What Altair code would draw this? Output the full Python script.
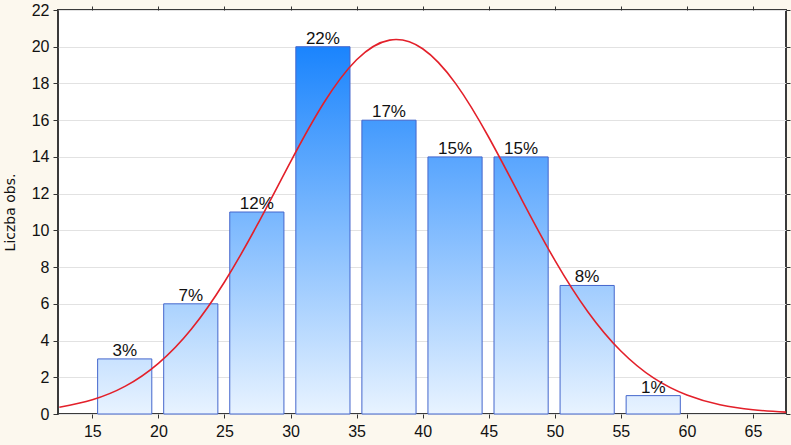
import altair as alt
import pandas as pd

# ---- data ----
bin_start = [15, 20, 25, 30, 35, 40, 45, 50, 55]
counts = [3, 6, 11, 20, 16, 14, 14, 7, 1]
pct_labels = ["3%", "7%", "12%", "22%", "17%", "15%", "15%", "8%", "1%"]

curve_x = [12.5, 15, 17.5, 20, 22.5, 25, 27.5, 30, 32.5, 35, 37.5, 40,
           42.5, 45, 47.5, 50, 52.5, 55, 57.5, 60, 62.5, 65, 67.5]
curve_y = [0.37, 0.78, 1.52, 2.76, 4.63, 7.19, 10.32, 13.73, 16.92, 19.29, 20.36, 19.89,
           17.99, 15.07, 11.68, 8.38, 5.57, 3.43, 1.95, 1.03, 0.50, 0.23, 0.10]

x_ticks = [15, 20, 25, 30, 35, 40, 45, 50, 55, 60, 65]
y_ticks = [0, 2, 4, 6, 8, 10, 12, 14, 16, 18, 20, 22]

FONT = "Liberation Sans"

bars = pd.DataFrame({"start": bin_start, "count": counts, "label": pct_labels})
bars["x0"] = bars["start"] + 0.4
bars["x1"] = bars["start"] + 4.5
bars["mid"] = (bars["x0"] + bars["x1"]) / 2
curve = pd.DataFrame({"x": curve_x, "y": curve_y})

xs = alt.Scale(domain=[12.4, 67.5], nice=False, zero=False)
ys = alt.Scale(domain=[0, 22], nice=False)

light = (232, 243, 255)
dark = (26, 132, 253)


def mix(t):
    c = [round(l + (d - l) * t) for l, d in zip(light, dark)]
    return "#%02x%02x%02x" % tuple(c)


# axis layers
axis_main = alt.Chart(bars).mark_point(opacity=0).encode(
    x=alt.X("mid:Q", scale=xs, axis=alt.Axis(
        values=x_ticks, grid=False, domain=False, tickSize=4, tickColor="#333",
        labelFont=FONT, labelFontSize=16, labelColor="#111", labelPadding=5,
        title=None)),
    y=alt.Y("count:Q", scale=ys, axis=alt.Axis(
        values=y_ticks, grid=True, gridColor="#e2e2e2", domain=False, tickSize=5,
        tickColor="#333", labelFont=FONT, labelFontSize=16, labelColor="#111",
        labelPadding=4, title="Liczba obs.", titleFont="DejaVu Sans", titleFontSize=14,
        titleFontWeight="normal", titleColor="#111", titlePadding=14)),
)

axis_mirror = alt.Chart(bars).mark_point(opacity=0).encode(
    x=alt.X("mid:Q", scale=xs, axis=alt.Axis(
        orient="top", values=x_ticks, grid=False, domain=False, labels=False,
        tickSize=4, tickColor="#333", title=None)),
    y=alt.Y("count:Q", scale=ys, axis=alt.Axis(
        orient="right", values=y_ticks, grid=False, domain=False, labels=False,
        tickSize=4, tickColor="#333", title=None)),
)

layers = [axis_main, axis_mirror]

for s, c in zip(bin_start, counts):
    top = mix(c / 20.0)
    grad = alt.Gradient(
        gradient="linear",
        stops=[alt.GradientStop(color=top, offset=0),
               alt.GradientStop(color=mix(0.0), offset=1)],
        x1=1, x2=1, y1=0, y2=1)
    layer = alt.Chart(bars).transform_filter(alt.datum.start == s).mark_rect(
        color=grad, stroke="#4466cc", strokeWidth=1).encode(
        x=alt.X("x0:Q", scale=xs, axis=None),
        x2="x1:Q",
        y=alt.Y("count:Q", scale=ys, axis=None),
        y2=alt.Y2(datum=0),
    )
    layers.append(layer)

text = alt.Chart(bars).mark_text(
    baseline="alphabetic", dy=-3, font=FONT, fontSize=17, color="#111").encode(
    x=alt.X("mid:Q", scale=xs, axis=None),
    y=alt.Y("count:Q", scale=ys, axis=None),
    text="label:N",
)

line = alt.Chart(curve).mark_line(
    color="#e3202a", strokeWidth=1.6, interpolate="natural", clip=True).encode(
    x=alt.X("x:Q", scale=xs, axis=None),
    y=alt.Y("y:Q", scale=ys, axis=None),
)

layers += [line, text]

chart = alt.layer(*layers).resolve_axis(x="independent", y="independent").properties(
    width=728, height=404,
    autosize=alt.AutoSizeParams(type="none"),
    padding={"left": 58, "top": 10, "right": 5, "bottom": 31},
    background="#fcf8ee",
).configure_view(stroke="#3a3a3a", strokeWidth=2, fill="white")

chart.save("out.html", embed_options={"renderer": "svg", "actions": False})
